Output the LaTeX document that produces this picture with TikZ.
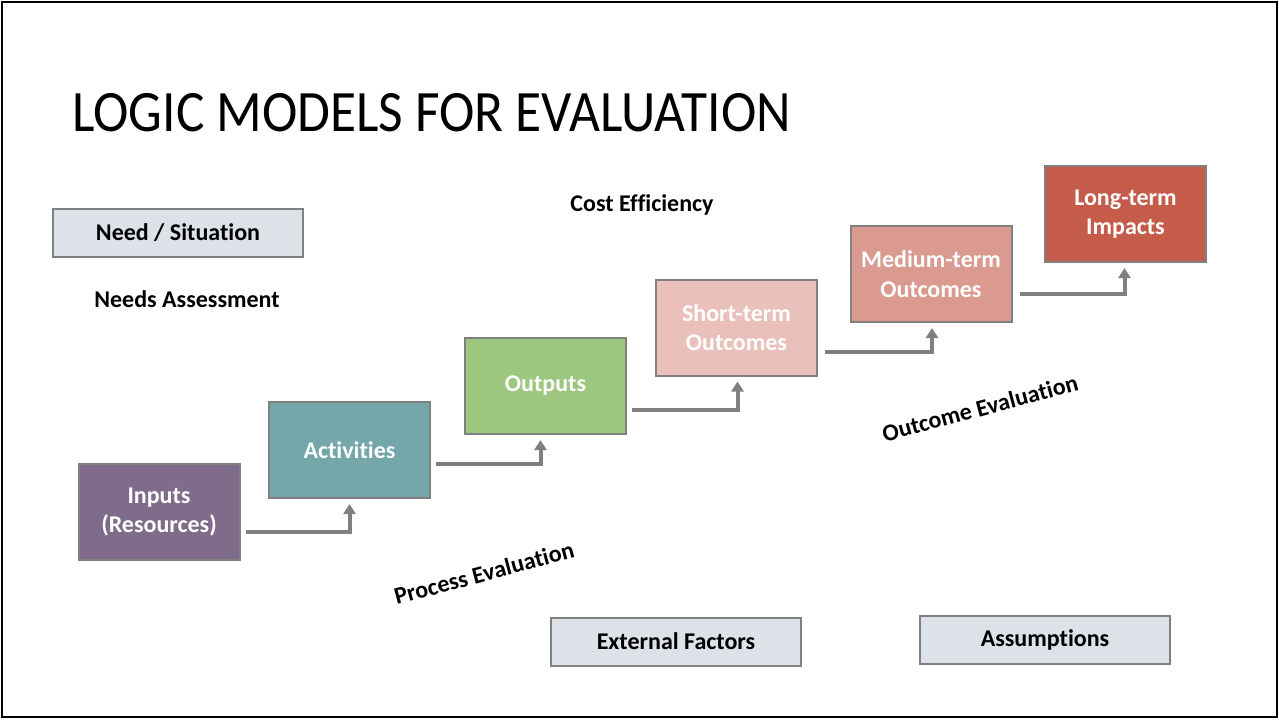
\documentclass[tikz,border=0pt]{standalone}
\usepackage{fontspec}
\setmainfont{Carlito}[Ligatures={NoCommon}]
\usetikzlibrary{arrows.meta,calc}
\definecolor{edgegray}{RGB}{128,128,128}
\definecolor{lightbox}{RGB}{221,225,232}
\definecolor{inputsc}{RGB}{128,108,138}
\definecolor{actc}{RGB}{116,166,170}
\definecolor{outc}{RGB}{157,198,127}
\definecolor{shortc}{RGB}{233,193,186}
\definecolor{medc}{RGB}{218,154,144}
\definecolor{longc}{RGB}{197,92,75}
\begin{document}
\begin{tikzpicture}[x=0.75pt,y=-0.75pt,
  stage/.style={draw=edgegray,line width=1.5pt,minimum width=120.75pt,minimum height=72pt,
    inner sep=0pt,align=center,text=white,font=\fontsize{18}{22}\selectfont\bfseries},
  graybox/.style={draw=edgegray,line width=1.5pt,fill=lightbox,minimum width=187.5pt,minimum height=36pt,
    inner sep=0pt,align=center,text=black,font=\fontsize{18}{22}\selectfont\bfseries},
  label/.style={text=black,font=\fontsize{18}{22}\selectfont\bfseries,inner sep=0pt},
  arr/.style={draw=edgegray,line width=3pt,-{Triangle[width=9pt,length=7.5pt]}}]
\useasboundingbox (0,0) rectangle (1279,719);
\draw[line width=1.5pt] (2,2) rectangle (1277,717);
\node[anchor=base west,inner sep=0pt,xscale=0.91,font=\fontsize{44}{50}\selectfont] (title) at (72,131) {LOGIC MODELS FOR EVALUATION};
\node[graybox] (need) at (178,233) {Need / Situation};
\node[label] (needs) at (187,299) {Needs Assessment};
\node[label] (cost) at (642,205) {Cost Efficiency};
\node[stage,fill=inputsc] (inputs) at (159,512) {Inputs\\(Resources)};
\node[stage,fill=actc] (act) at (349.5,450) {Activities};
\node[stage,fill=outc] (out) at (545.5,386) {\raisebox{-2pt}{Outputs}};
\node[stage,fill=shortc] (short) at (736.5,327.5) {Short-term\\Outcomes};
\node[stage,fill=medc] (med) at (931,274) {Medium-term\\Outcomes};
\node[stage,fill=longc] (long) at (1125.5,214) {Long-term\\Impacts};
\node[graybox] (ext) at (676,641.5) {External Factors};
\node[graybox] (assum) at (1045,640) {Assumptions};
\node[label,rotate=15] (proc) at (484,573) {Process Evaluation};
\node[label,rotate=15] (outev) at (980,408) {Outcome Evaluation};
\draw[arr] ($(inputs.east)+(5,20)$) -| ($(act.south)+(0,5)$);
\draw[arr] ($(act.east)+(5,14)$) -| ($(out.south)+(-5,5)$);
\draw[arr] ($(out.east)+(5,24)$) -| ($(short.south)+(1,5)$);
\draw[arr] ($(short.east)+(7,24.5)$) -| ($(med.south)+(1,5)$);
\draw[arr] ($(med.east)+(7,20)$) -| ($(long.south)+(-1,5)$);
\end{tikzpicture}
\end{document}
